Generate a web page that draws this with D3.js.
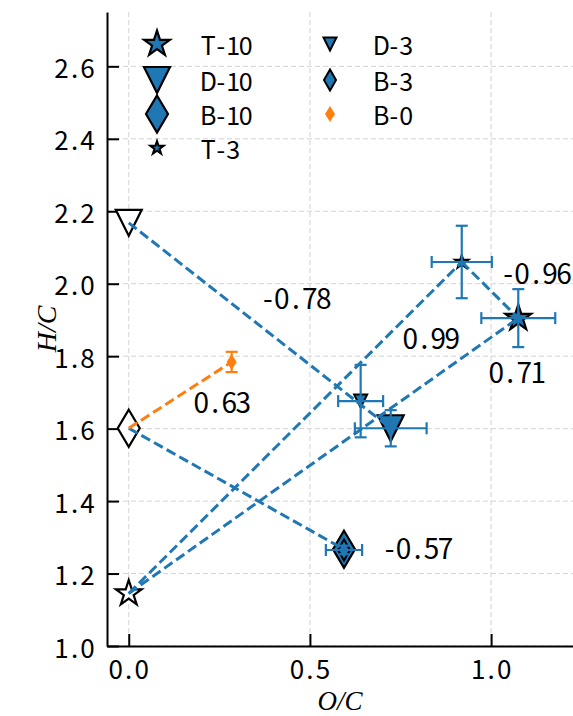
<!DOCTYPE html>
<html>
<head>
<meta charset="utf-8">
<script src="https://cdn.jsdelivr.net/npm/d3@7/dist/d3.min.js"></script>
<style>
html,body{margin:0;padding:0;background:#fff;}
</style>
</head>
<body>
<svg id="chart" width="573" height="716"></svg>
<script>
// ---- data ----
const categories = ["T-10", "D-10", "B-10", "T-3", "D-3", "B-3", "B-0"];
const ocValues   = [1.075, 0.723, 0.594, 0.919, 0.640, 0.594, 0.284];
const hcValues   = [1.905, 1.601, 1.267, 2.060, 1.676, 1.265, 1.784];
const ocErrors   = [0.102, 0.099, 0.000, 0.083, 0.062, 0.050, 0.000];
const hcErrors   = [0.080, 0.050, 0.000, 0.100, 0.100, 0.012, 0.028];

// base fuels (O/C = 0), open markers
const baseNames = ["T-0", "D-0", "B-0base"];
const baseOC    = [0, 0, 0];
const baseHC    = [1.145, 2.168, 1.601];

// connecting lines
const linkFrom   = ["T-0", "T-0", "T-3", "D-0", "B-0base", "B-0base"];
const linkTo     = ["T-3", "T-10", "T-10", "D-10", "B-10", "B-0"];
const linkLabels = ["0.99", "0.71", "-0.96", "-0.78", "-0.57", "0.63"];
const linkLabelOC = [0.835, 1.072, 1.124, 0.461, 0.797, 0.258];
const linkLabelHC = [1.853, 1.758, 2.033, 1.963, 1.273, 1.676];

const xTicks = [0.0, 0.5, 1.0];
const yTicks = [1.0, 1.2, 1.4, 1.6, 1.8, 2.0, 2.2, 2.4, 2.6];

// ---- layout ----
const svg = d3.select("#chart");
const L = 107, R = 573, T = 12, B = 646;
const x = d3.scaleLinear().domain([-0.06, 1.226]).range([L, R]);
const y = d3.scaleLinear().domain([1.0, 2.75]).range([B, T]);
const blue = "#1f77b4", orange = "#ff7f0e";
const FONT = "Noto Sans CJK SC, Noto Sans, sans-serif";

// half-width cell text: each glyph centred in a 0.5em cell, one text node
const meas = svg.append("text").attr("font-family", FONT).style("visibility", "hidden");
function cellText(sel, str, px, py, fs, anchor) {
  const cell = fs * 0.5, chars = [...str], w = chars.length * cell;
  const start = anchor === "middle" ? px - w / 2 : anchor === "end" ? px - w : px;
  meas.attr("font-size", fs);
  const xs = chars.map((ch, i) => {
    meas.text(ch);
    const adv = meas.node().getComputedTextLength();
    return (start + cell * i + (cell - adv) / 2).toFixed(2);
  });
  return sel.append("text").attr("font-family", FONT).attr("font-size", fs)
    .attr("x", xs.join(" ")).attr("y", py).attr("dominant-baseline", "central").attr("fill", "#000").text(str);
}

// grid
const g = svg.append("g");
g.selectAll(".vg").data(xTicks).enter().append("line")
  .attr("x1", d => x(d)).attr("x2", d => x(d)).attr("y1", T).attr("y2", B)
  .attr("stroke", "#d3d3d3").attr("stroke-width", 1).attr("stroke-dasharray", "5,3");
g.selectAll(".hg").data(yTicks).enter().append("line")
  .attr("x1", L).attr("x2", R).attr("y1", d => y(d)).attr("y2", d => y(d))
  .attr("stroke", "#d3d3d3").attr("stroke-width", 1).attr("stroke-dasharray", "5,3");

// axes
const fmt = d3.format(".1f");
const xAxis = d3.axisBottom(x).tickValues(xTicks).tickFormat("").tickSizeInner(-12).tickSizeOuter(0);
const yAxis = d3.axisLeft(y).tickValues(yTicks).tickFormat("").tickSizeInner(-12).tickSizeOuter(0);
const gx = svg.append("g").attr("transform", `translate(0,${B})`).call(xAxis);
const gy = svg.append("g").attr("transform", `translate(${L},0)`).call(yAxis);
[gx, gy].forEach(a => {
  a.select(".domain").attr("stroke", "#000").attr("stroke-width", 2);
  a.selectAll(".tick line").attr("stroke", "#000").attr("stroke-width", 2);
});
const tl = svg.append("g");
xTicks.forEach(v => cellText(tl, fmt(v), x(v), B + 21, 26, "middle"));
yTicks.forEach(v => cellText(tl, fmt(v), L - 13, y(v), 26, "end"));

// axis labels
svg.append("text").attr("x", (L + R) / 2).attr("y", 701).attr("text-anchor", "middle")
  .attr("dominant-baseline", "central")
  .attr("font-family", "Liberation Serif, serif").attr("font-style", "italic").attr("font-size", 27).text("O/C");
svg.append("text").attr("transform", `translate(46,${(T + B) / 2}) rotate(-90)`).attr("text-anchor", "middle")
  .attr("dominant-baseline", "central")
  .attr("font-family", "Liberation Serif, serif").attr("font-style", "italic").attr("font-size", 28).text("H/C");

// marker shapes
function star(r) {
  const pts = [];
  for (let i = 0; i < 10; i++) {
    const rr = i % 2 === 0 ? r : r * 0.381966;
    const a = -Math.PI / 2 + i * Math.PI / 5;
    pts.push([rr * Math.cos(a), rr * Math.sin(a)]);
  }
  return "M" + pts.map(p => p.join(",")).join("L") + "Z";
}
function tri(r) { return `M0,${r}L${-r},${-r}L${r},${-r}Z`; }
function dia(hh, hw) { return `M0,${-hh}L${hw},0L0,${hh}L${-hw},0Z`; }

const markerSpec = {
  "T-10": {d: star(13.5), fill: blue, stroke: "#000", sw: 2.2},
  "D-10": {d: tri(13), fill: blue, stroke: "#000", sw: 2.2},
  "B-10": {d: dia(18.5, 11), fill: blue, stroke: "#000", sw: 2.2},
  "T-3":  {d: star(7), fill: blue, stroke: "#000", sw: 2},
  "D-3":  {d: tri(6.5), fill: blue, stroke: "#000", sw: 2},
  "B-3":  {d: dia(10.5, 6), fill: blue, stroke: "#000", sw: 2},
  "B-0":  {d: dia(8, 5), fill: orange, stroke: "none", sw: 0}
};
const baseSpec = {
  "T-0": {d: star(13.5)}, "D-0": {d: tri(13)}, "B-0base": {d: dia(18.5, 11)}
};

// point lookup
const pos = {};
categories.forEach((c, i) => pos[c] = [ocValues[i], hcValues[i]]);
baseNames.forEach((c, i) => pos[c] = [baseOC[i], baseHC[i]]);

// base (open) markers
baseNames.forEach((c, i) => {
  svg.append("path").attr("d", baseSpec[c].d)
    .attr("transform", `translate(${x(baseOC[i])},${y(baseHC[i])})`)
    .attr("fill", "#fff").attr("stroke", "#000").attr("stroke-width", 2.2);
});
// data markers
categories.forEach((c, i) => {
  const s = markerSpec[c];
  svg.append("path").attr("d", s.d)
    .attr("transform", `translate(${x(ocValues[i])},${y(hcValues[i])})`)
    .attr("fill", s.fill).attr("stroke", s.stroke).attr("stroke-width", s.sw);
});

// lines
linkFrom.forEach((f, i) => {
  const a = pos[f], b = pos[linkTo[i]];
  svg.append("line")
    .attr("x1", x(a[0])).attr("y1", y(a[1])).attr("x2", x(b[0])).attr("y2", y(b[1]))
    .attr("stroke", linkTo[i] === "B-0" ? orange : blue).attr("stroke-width", 3)
    .attr("stroke-dasharray", "10,4.5");
});

// error bars
const cap = 6;
categories.forEach((c, i) => {
  const col = c === "B-0" ? orange : blue;
  const cx = x(ocValues[i]), cy = y(hcValues[i]);
  const eg = svg.append("g").attr("stroke", col).attr("stroke-width", 2.2);
  if (ocErrors[i] > 0) {
    const x0 = x(ocValues[i] - ocErrors[i]), x1 = x(ocValues[i] + ocErrors[i]);
    eg.append("line").attr("x1", x0).attr("x2", x1).attr("y1", cy).attr("y2", cy);
    eg.append("line").attr("x1", x0).attr("x2", x0).attr("y1", cy - cap).attr("y2", cy + cap);
    eg.append("line").attr("x1", x1).attr("x2", x1).attr("y1", cy - cap).attr("y2", cy + cap);
  }
  if (hcErrors[i] > 0) {
    const y0 = y(hcValues[i] - hcErrors[i]), y1 = y(hcValues[i] + hcErrors[i]);
    eg.append("line").attr("x1", cx).attr("x2", cx).attr("y1", y0).attr("y2", y1);
    eg.append("line").attr("x1", cx - cap).attr("x2", cx + cap).attr("y1", y0).attr("y2", y0);
    eg.append("line").attr("x1", cx - cap).attr("x2", cx + cap).attr("y1", y1).attr("y2", y1);
  }
});

// line labels
linkLabels.forEach((t, i) => {
  cellText(svg, t, x(linkLabelOC[i]), y(linkLabelHC[i]), 28, "middle");
});

// legend (2 columns, column-wise fill)
const legRows = 4, colMarkerX = [157, 330], colTextX = [202, 375], rowY = [44, 80, 114, 148];
categories.forEach((c, i) => {
  const col = Math.floor(i / legRows), row = i % legRows;
  const s = markerSpec[c];
  svg.append("path").attr("d", s.d)
    .attr("transform", `translate(${colMarkerX[col]},${rowY[row]})`)
    .attr("fill", s.fill).attr("stroke", s.stroke).attr("stroke-width", s.sw);
  cellText(svg, c, colTextX[col], rowY[row], 25, "start");
});
meas.remove();
</script>
</body>
</html>
